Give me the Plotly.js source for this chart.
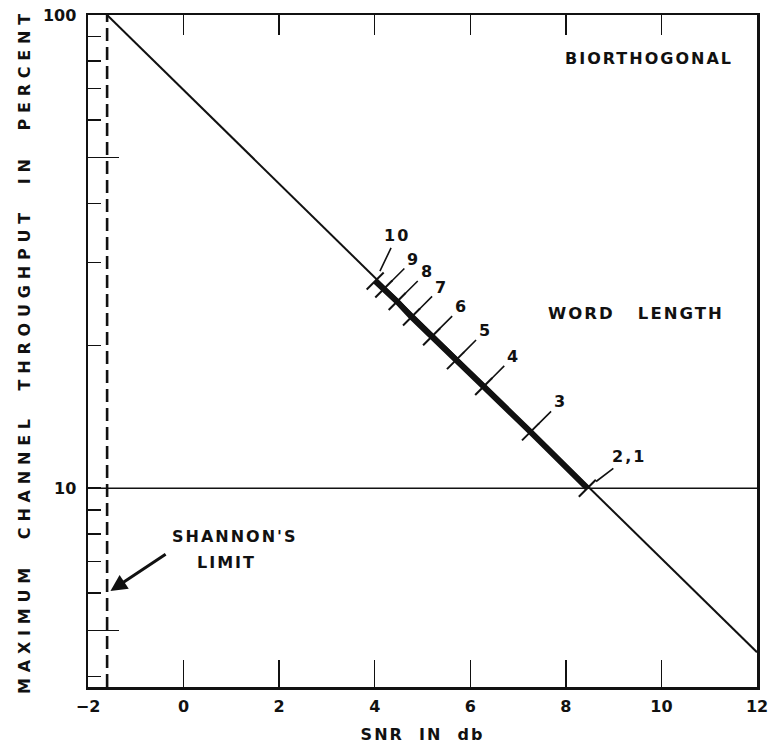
<!DOCTYPE html>
<html><head><meta charset="utf-8">
<script src="https://cdn.plot.ly/plotly-3.0.1.min.js"></script>
<style>
html,body{margin:0;padding:0;background:#fff}
#chart{width:770px;height:744px}
.ytitle{letter-spacing:5.8px;white-space:pre}
.xtitle{letter-spacing:2px;white-space:pre}
.annotation-text{letter-spacing:2px;white-space:pre}
</style></head><body><div id="chart"></div>
<script>
// ---- data ----
const xTickVals = [-2, 0, 2, 4, 6, 8, 10, 12];
const xTickText = ['\u22122', '0', '2', '4', '6', '8', '10', '12'];
const yLabelVals = [10, 100];
const yLabelText = ['10', '100'];
const yMinorTicks = [4, 6, 7, 8, 9, 20, 30, 40, 60, 70, 80, 90];
const yMidTicks = [5, 50];
const lineSnr = [-1.6, 12];
const lineThroughput = [100, 4.5];
const wordLengths = ['10', '9', '8', '7', '6', '5', '4', '3', '2,1'];
const wordSnr = [4.01, 4.19, 4.47, 4.77, 5.19, 5.69, 6.28, 7.26, 8.45];
const wordThroughput = [27.4, 26.35, 24.8, 23.0, 20.9, 18.6, 16.4, 13.15, 10];
const shannonLimitSnr = -1.6;
const referenceLevel = 10;
const xRange = [-2, 12];
const yRange = [3.8, 100];

// ---- styling ----
const FONT = 'DejaVu Sans';
const ink = '#111';
const labelOffsets = {'10': [22, -46], '2,1': [42, -32]};

const yTickVals = yMinorTicks.concat(yLabelVals);
const yTickText = yMinorTicks.map(() => '').concat(yLabelText);

const traces = [
  { x: lineSnr, y: lineThroughput, mode: 'lines', line: {color: ink, width: 2}, hoverinfo: 'skip' },
  { x: wordSnr, y: wordThroughput, mode: 'lines', line: {color: ink, width: 6}, hoverinfo: 'skip' },
  { x: wordSnr, y: wordThroughput, mode: 'markers',
    marker: {symbol: 'line-ne', size: 17, color: ink, line: {color: ink, width: 2}}, hoverinfo: 'skip' },
  { x: [shannonLimitSnr, shannonLimitSnr], y: yRange, mode: 'lines',
    line: {color: ink, width: 2.6, dash: '13px,6px'}, hoverinfo: 'skip' },
  { x: xRange, y: [referenceLevel, referenceLevel], mode: 'lines', xaxis: 'x2', yaxis: 'y2',
    line: {color: ink, width: 1.5}, hoverinfo: 'skip' }
];

const annotations = wordLengths.map((lab, i) => {
  const off = labelOffsets[lab] || [30, -30];
  return {
    x: wordSnr[i], y: Math.log10(wordThroughput[i]), xref: 'x', yref: 'y',
    text: lab, showarrow: true, arrowhead: 0, arrowwidth: 1.6, arrowcolor: ink,
    ax: off[0], ay: off[1], standoff: 11, startstandoff: 2,
    font: {family: FONT, size: 16, color: ink, weight: 'bold'}
  };
});
annotations.push(
  { x: 9.74, y: Math.log10(81.1), xref: 'x', yref: 'y', text: 'BIORTHOGONAL', showarrow: false,
    font: {family: FONT, size: 16, color: ink, weight: 'bold'} },
  { x: 9.46, y: Math.log10(23.4), xref: 'x', yref: 'y', text: 'WORD   LENGTH', showarrow: false,
    font: {family: FONT, size: 16.5, color: ink, weight: 'bold'} },
  { x: 1.07, y: Math.log10(7.91), xref: 'x', yref: 'y', text: "SHANNON'S", showarrow: false,
    font: {family: FONT, size: 16, color: ink, weight: 'bold'} },
  { x: 0.9, y: Math.log10(6.98), xref: 'x', yref: 'y', text: 'LIMIT', showarrow: false,
    font: {family: FONT, size: 16, color: ink, weight: 'bold'} },
  { x: shannonLimitSnr, y: Math.log10(6.0), xref: 'x', yref: 'y', text: '', showarrow: true,
    arrowhead: 2, arrowsize: 1.1, arrowwidth: 3, arrowcolor: ink, ax: 60, ay: -40, standoff: 4 }
);

const tickFont = {family: FONT, size: 16, color: ink, weight: 'bold'};
const layout = {
  width: 770, height: 744,
  margin: {l: 88, r: 13, t: 15, b: 57},
  paper_bgcolor: '#fff', plot_bgcolor: '#fff',
  showlegend: false,
  xaxis: {
    range: xRange, tickvals: xTickVals, ticktext: xTickText, ticks: 'inside', ticklen: 27, tickwidth: 1.5,
    tickcolor: ink, showline: true, linecolor: ink, linewidth: 2.5, showgrid: false, zeroline: false,
    tickfont: tickFont, ticklabelstandoff: 3,
    title: {text: 'SNR  IN  db', font: {family: FONT, size: 16, color: ink, weight: 'bold'}, standoff: 14}
  },
  yaxis: {
    type: 'log', range: [Math.log10(yRange[0]), Math.log10(yRange[1])],
    tickvals: yTickVals, ticktext: yTickText, ticks: 'inside', ticklen: 13, tickwidth: 1.5,
    tickcolor: ink, showline: true, linecolor: ink, linewidth: 2.5, showgrid: false, zeroline: false,
    tickfont: tickFont, ticklabelstandoff: 6,
    title: {text: 'MAXIMUM  CHANNEL  THROUGHPUT  IN  PERCENT', standoff: 9,
            font: {family: FONT, size: 16, color: ink, weight: 'bold'}}
  },
  xaxis2: {
    overlaying: 'x', side: 'top', anchor: 'y2', range: xRange, tickvals: xTickVals.slice(1, -1),
    ticks: 'inside', ticklen: 20, tickwidth: 1.5, tickcolor: ink, showticklabels: false,
    showline: true, linecolor: ink, linewidth: 2.5, showgrid: false, zeroline: false
  },
  yaxis2: {
    overlaying: 'y', side: 'right', anchor: 'x2', type: 'log',
    range: [Math.log10(yRange[0]), Math.log10(yRange[1])],
    showticklabels: false, ticks: '', showline: true, linecolor: ink, linewidth: 2.5,
    showgrid: false, zeroline: false
  },
  yaxis3: {
    overlaying: 'y', side: 'left', anchor: 'x', type: 'log',
    range: [Math.log10(yRange[0]), Math.log10(yRange[1])],
    tickvals: yMidTicks, ticks: 'inside', ticklen: 31, tickwidth: 1.5, tickcolor: ink,
    showticklabels: false, showline: false, showgrid: false, zeroline: false
  },
  annotations: annotations
};
traces.push({ x: [shannonLimitSnr], y: [yRange[0]], yaxis: 'y3', mode: 'markers',
  marker: {size: 0.1, opacity: 0}, hoverinfo: 'skip' });

Plotly.newPlot('chart', traces, layout, {displayModeBar: false, staticPlot: true});
</script></body></html>
